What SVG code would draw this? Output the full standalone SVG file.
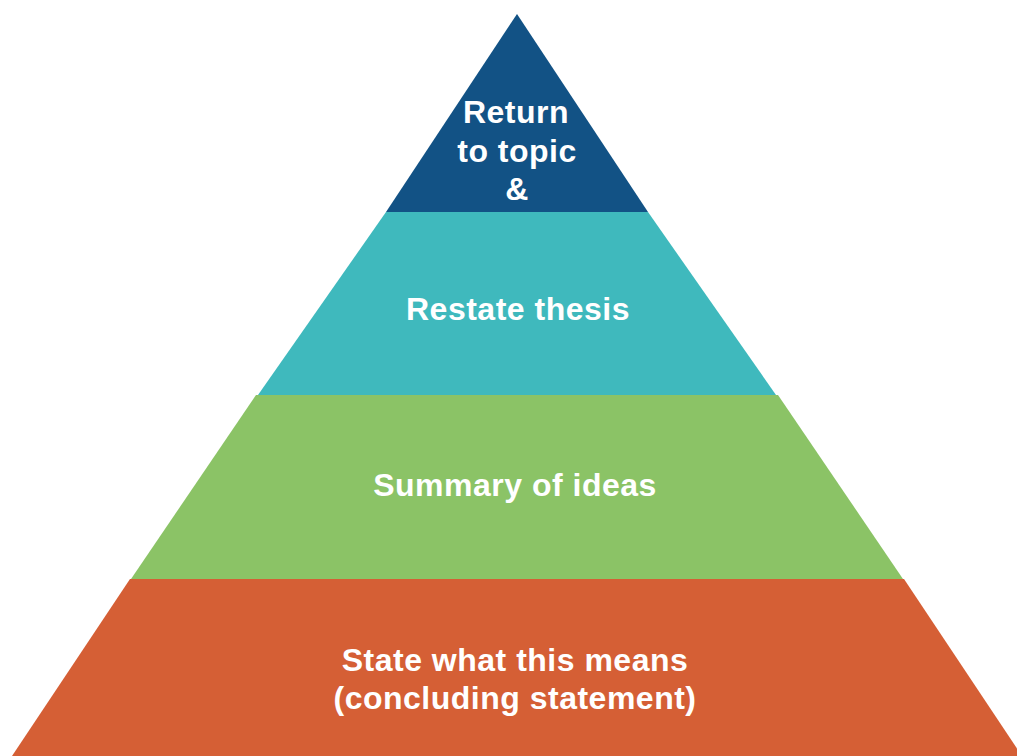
<svg xmlns="http://www.w3.org/2000/svg" width="1017" height="756" viewBox="0 0 1017 756">
<style>
.lbl{font-family:"Liberation Sans",Arial,sans-serif;font-weight:bold;font-size:32px;letter-spacing:0.5px;fill:#ffffff;text-anchor:middle}
</style>
<rect width="1017" height="756" fill="#ffffff"/>
<g id="layer-top">
<polygon points="517,14 386,212 648,212" fill="#125285"/>
<text class="lbl" x="516" y="123">Return</text>
<text class="lbl" x="517" y="162">to topic</text>
<text class="lbl" x="517" y="200">&amp;</text>
</g>
<g id="layer-thesis">
<polygon points="386,212 648,212 776,395 258,395" fill="#3FB9BD"/>
<text class="lbl" x="518" y="320">Restate thesis</text>
</g>
<g id="layer-summary">
<polygon points="256,395 778,395 903,579 131,579" fill="#8BC366"/>
<text class="lbl" x="515" y="496">Summary of ideas</text>
</g>
<g id="layer-conclusion">
<polygon points="130,579 904,579 1022,756 12,756" fill="#D55F35"/>
<text class="lbl" x="515" y="671">State what this means</text>
<text class="lbl" x="515" y="709">(concluding statement)</text>
</g>
</svg>
